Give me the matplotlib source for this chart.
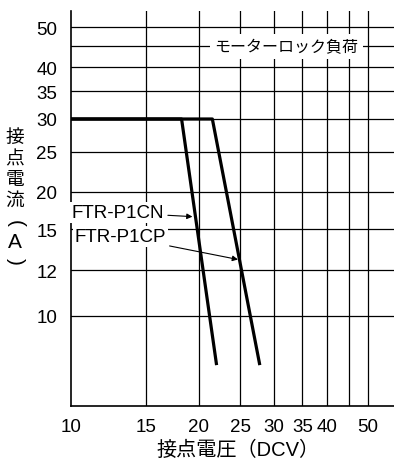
import matplotlib
matplotlib.use('Agg')
import matplotlib.pyplot as plt

plt.rcParams['font.family'] = ['Liberation Sans', 'Noto Sans CJK JP']

# contact voltage (DCV) / contact current (A)
cn_volt = [10, 18.2, 22.0]
cn_amp = [30, 30, 7.6]
cp_volt = [10, 21.5, 27.8]
cp_amp = [30, 30, 7.6]

x_ticks = [10, 15, 20, 25, 30, 35, 40, 50]
x_grid = [15, 20, 25, 30, 35, 40, 45, 50]
y_labels = ['10', '12', '15', '20', '25', '30', '35', '40', '50']
y_pos = [10, 12.9, 16.2, 20, 25, 30, 35, 40, 50]
y_grid = [10, 12.9, 16.2, 20, 25, 30, 35, 40, 45, 50]

fig = plt.figure(figsize=(3.94, 4.64), dpi=100)
ax = fig.add_axes([71/394, 57/464, 323/394, 395/464])
ax.set_xscale('log')
ax.set_yscale('log')
ax.set_xlim(10, 57.5)
ax.set_ylim(6.05, 54.8)

for v in x_grid:
    ax.axvline(v, color='black', lw=0.9, zorder=1)
for v in y_grid:
    ax.axhline(v, color='black', lw=0.9, zorder=1)

ax.plot(cn_volt, cn_amp, color='black', lw=2.3, solid_capstyle='butt', zorder=3)
ax.plot(cp_volt, cp_amp, color='black', lw=2.3, solid_capstyle='butt', zorder=3)

ax.set_xticks(x_ticks)
ax.set_xticklabels([str(v) for v in x_ticks])
ax.set_yticks(y_pos)
ax.set_yticklabels(y_labels)
ax.minorticks_off()
ax.tick_params(length=0, labelsize=13.5)
ax.tick_params(axis='x', pad=8.5)
ax.tick_params(axis='y', pad=10)

for s in ['top', 'right']:
    ax.spines[s].set_visible(False)
for s in ['left', 'bottom']:
    ax.spines[s].set_linewidth(1.2)

box = dict(facecolor='white', edgecolor='none', pad=1.5)
ax.text(32.1, 45, 'モーターロック負荷', ha='center', va='center', fontsize=11.5,
        family=['Noto Sans CJK JP'], bbox=dict(facecolor='white', edgecolor='none', pad=3), zorder=4)
ax.annotate('FTR-P1CN', xy=(19.3, 17.4), xytext=(10.05, 17.8), ha='left', va='center',
            fontsize=13.5, bbox=box, zorder=5,
            arrowprops=dict(arrowstyle='-|>', color='black', lw=0.8, mutation_scale=8,
                            shrinkA=1, shrinkB=0))
ax.annotate('FTR-P1CP', xy=(24.7, 13.7), xytext=(10.2, 15.6), ha='left', va='center',
            fontsize=13.5, bbox=box, zorder=5,
            arrowprops=dict(arrowstyle='-|>', color='black', lw=0.8, mutation_scale=8,
                            shrinkA=1, shrinkB=0))

# vertical axis title, written top to bottom
fig.text(15/394, 1 - 169/464, '接\n点\n電\n流', ha='center', va='center',
         fontsize=13.5, linespacing=0.98, family=['Noto Sans CJK JP'])
fig.text(15/394, 1 - 224/464, '(', rotation=-90, ha='center', va='center', fontsize=15)
fig.text(15/394, 1 - 243/464, 'A', ha='center', va='center', fontsize=15)
fig.text(15/394, 1 - 261/464, ')', rotation=-90, ha='center', va='center', fontsize=15)

fig.text(238/394, 1 - 450/464, '接点電圧（DCV）', ha='center', va='center', fontsize=14.5)

fig.savefig('out.png', dpi=100)
